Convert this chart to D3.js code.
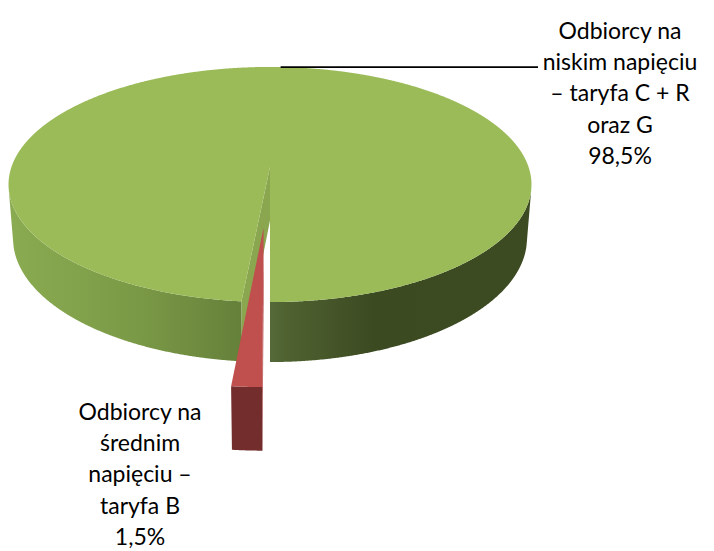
<!DOCTYPE html>
<meta charset="utf-8">
<style>
    body {
        margin: 0;
        background: #fff;
    }
    svg {
        display: block;
        font-family: Lato, "Open Sans", sans-serif;
    }
    .label text {
        font-size: 23px;
        fill: #000;
        text-anchor: middle;
    }
</style>
<body>
<script src="https://d3js.org/d3.v7.min.js"></script>
<script>
    // data
    const categories = ["Odbiorcy na niskim napięciu – taryfa C + R oraz G", "Odbiorcy na średnim napięciu – taryfa B"];
    const values = [98.5, 1.5];
    const percentLabels = ["98,5%", "1,5%"];
    const labelLines = [
        ["Odbiorcy na", "niskim napięciu", "– taryfa C + R", "oraz G"],
        ["Odbiorcy na", "średnim", "napięciu –", "taryfa B"]
    ];
    const explode = [0, 0.49];

    const topColors = ["#9bbb59", "#c0504d"];
    const cutColors = ["#8aa64f", "#a8413f"];
    const sideColors = ["url(#greenSide)", "#722d2c"];

    const width = 714, height = 551;

    // simple perspective camera, pie radius = 1
    const cx = 270, cy = 167;
    const tilt = 26.4 * Math.PI / 180;
    const sn = Math.sin(tilt), cs = Math.cos(tilt);
    const dist = 6.014, focal = 1555, depth = 0.235;
    const camZ = dist * cs;

    function project(X, Y, Z) {
        const d = dist - (Y * sn + Z * cs);
        return [cx + focal * X / d, cy - focal * (Y * cs - Z * sn) / d];
    }

    const svg = d3.select('body')
        .append('svg')
        .attr('width', width)
        .attr('height', height);

    const defs = svg.append('defs');
    const grad = defs.append('linearGradient')
        .attr('id', 'greenSide')
        .attr('gradientUnits', 'userSpaceOnUse')
        .attr('x1', 10).attr('x2', 530)
        .attr('y1', 0).attr('y2', 0);
    [[0, '#8aab51'], [0.25, '#7a9946'], [0.45, '#65803a'], [0.5, '#55693a'],
     [0.53, '#4f6230'], [0.7, '#3c4a22'], [1, '#3d4b23']].forEach(d => {
        grad.append('stop').attr('offset', d[0]).attr('stop-color', d[1]);
    });

    const start = Math.PI + 2 * Math.PI * values[1] / d3.sum(values);
    const pie = d3.pie().sort(null).startAngle(start).endAngle(start + 2 * Math.PI);

    const slices = pie(values).map((p, i) => {
        const mid = (p.startAngle + p.endAngle) / 2;
        return Object.assign({}, p, {
            i: i,
            mid: mid,
            ox: explode[i] * Math.sin(mid),
            oz: -explode[i] * Math.cos(mid)
        });
    });

    const line = d3.line();

    function rim(sl, a, Y) {
        return project(sl.ox + Math.sin(a), Y, sl.oz - Math.cos(a));
    }

    function angles(a0, a1) {
        const n = Math.max(2, Math.ceil((a1 - a0) / 0.004));
        return d3.range(n + 1).map(k => a0 + (a1 - a0) * k / n);
    }

    function drawSlice(g, sl) {
        const as = angles(sl.startAngle, sl.endAngle);

        // outer wall, only the parts facing the camera
        const visible = a => -1 - sl.ox * Math.sin(a) - Math.cos(a) * (camZ - sl.oz) > 0;
        let runs = [], cur = [];
        as.forEach(a => {
            if (visible(a)) cur.push(a);
            else if (cur.length) { runs.push(cur); cur = []; }
        });
        if (cur.length) runs.push(cur);
        runs.filter(r => r.length > 1).forEach(r => {
            const pts = r.map(a => rim(sl, a, 0)).concat(r.slice().reverse().map(a => rim(sl, a, -depth)));
            g.append('path')
                .attr('d', line(pts) + 'Z')
                .style('fill', sideColors[sl.i]);
        });

        // cut faces
        [[sl.startAngle, -1], [sl.endAngle, 1]].forEach(([a, sgn]) => {
            const nx = sgn * Math.cos(a), nz = sgn * Math.sin(a);
            if (nx * (-sl.ox) + nz * (camZ - sl.oz) <= 1e-6) return;
            const pts = [project(sl.ox, 0, sl.oz), rim(sl, a, 0), rim(sl, a, -depth), project(sl.ox, -depth, sl.oz)];
            g.append('path')
                .attr('d', line(pts) + 'Z')
                .style('fill', cutColors[sl.i]);
        });

        // top face
        const top = [project(sl.ox, 0, sl.oz)].concat(as.map(a => rim(sl, a, 0)));
        g.append('path')
            .attr('d', line(top) + 'Z')
            .style('fill', topColors[sl.i]);
    }

    const pieG = svg.append('g').attr('class', 'pie');
    slices.forEach(sl => drawSlice(pieG.append('g').attr('class', 'slice'), sl));

    // leader line for the big slice
    const lead = rim(slices[0], slices[0].mid, 0);
    svg.append('line')
        .attr('x1', lead[0]).attr('y1', lead[1])
        .attr('x2', 538).attr('y2', lead[1])
        .style('stroke', '#000')
        .style('stroke-width', 1.8);

    // labels
    const labelPos = [[620, 39], [140, 420]];
    const labels = svg.selectAll('.label')
        .data(slices)
        .enter().append('g')
        .attr('class', 'label')
        .attr('transform', d => `translate(${labelPos[d.i][0]},${labelPos[d.i][1]})`);

    labels.selectAll('text')
        .data(d => labelLines[d.i].concat([percentLabels[d.i]]))
        .enter().append('text')
        .attr('y', (d, k) => k * 31.2)
        .text(d => d);
</script>
</body>
